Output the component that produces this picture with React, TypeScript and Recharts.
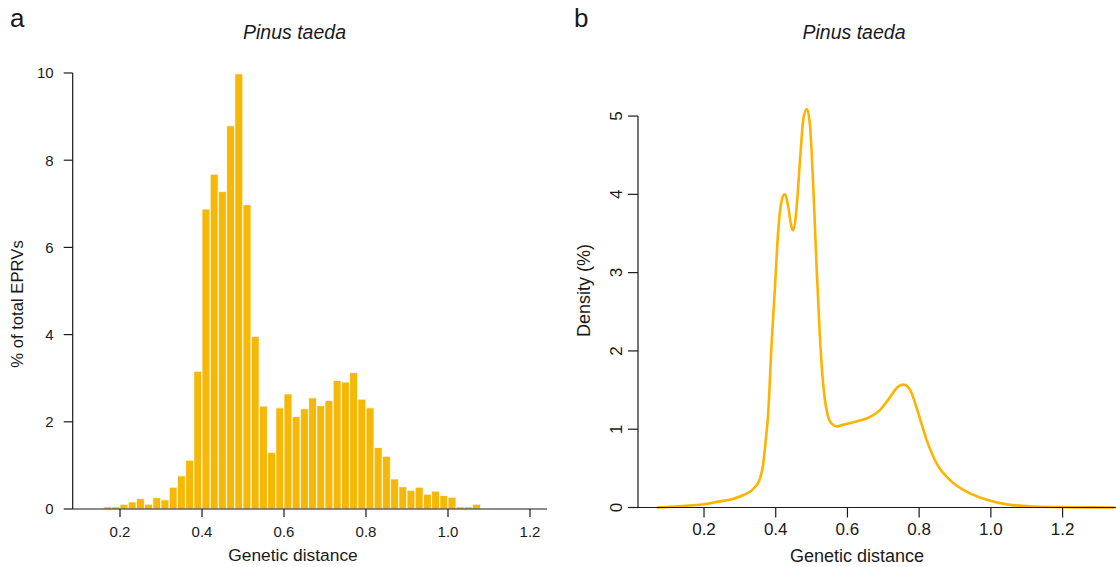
import React from 'react';
import { ComposedChart, Bar, LineChart, Line, XAxis, YAxis, ReferenceLine } from 'recharts';

// histogram: bin centres (width 0.02) and % of total EPRVs
const binCenters = [
  0.17, 0.19, 0.21, 0.23, 0.25, 0.27, 0.29, 0.31, 0.33, 0.35, 0.37, 0.39, 0.41, 0.43, 0.45, 0.47,
  0.49, 0.51, 0.53, 0.55, 0.57, 0.59, 0.61, 0.63, 0.65, 0.67, 0.69, 0.71, 0.73, 0.75, 0.77, 0.79,
  0.81, 0.83, 0.85, 0.87, 0.89, 0.91, 0.93, 0.95, 0.97, 0.99, 1.01, 1.03, 1.05, 1.07,
];
const eprvPercent = [
  0.05, 0.05, 0.11, 0.16, 0.24, 0.11, 0.26, 0.21, 0.5, 0.76, 1.12, 3.16, 6.88, 7.68, 7.28, 8.79,
  9.98, 6.98, 3.96, 2.36, 1.3, 2.32, 2.64, 2.12, 2.3, 2.55, 2.37, 2.49, 2.95, 2.91, 3.13, 2.52,
  2.32, 1.41, 1.21, 0.69, 0.51, 0.43, 0.5, 0.34, 0.41, 0.31, 0.27, 0.05, 0.05, 0.11,
];

// density curve
const densityX = [
  0.068, 0.12, 0.16, 0.2, 0.24, 0.28, 0.31, 0.34, 0.356, 0.365, 0.372, 0.379, 0.388, 0.398, 0.407,
  0.417, 0.425, 0.435, 0.443, 0.449, 0.455, 0.46, 0.469, 0.478, 0.487, 0.495, 0.504, 0.514, 0.523,
  0.53, 0.537, 0.545, 0.556, 0.57, 0.59, 0.625, 0.66, 0.69, 0.719, 0.743, 0.757, 0.775, 0.798, 0.821,
  0.849, 0.886, 0.933, 0.989, 1.045, 1.119, 1.212, 1.345,
];
const densityPct = [
  0, 0.012, 0.025, 0.042, 0.075, 0.11, 0.16, 0.25, 0.37, 0.55, 0.85, 1.2, 2.05, 2.82, 3.54,
  3.93, 4.0, 3.84, 3.6, 3.54, 3.68, 3.93, 4.52, 4.99, 5.09, 4.91, 4.18, 3.07, 2.2,
  1.7, 1.38, 1.18, 1.07, 1.035, 1.06, 1.1, 1.15, 1.24, 1.41, 1.55, 1.57, 1.5, 1.2, 0.86,
  0.56, 0.35, 0.2, 0.1, 0.04, 0.013, 0.004, 0,
];

const distanceTicks = [0.2, 0.4, 0.6, 0.8, 1.0, 1.2];
const histTicks = [0, 2, 4, 6, 8, 10];
const densityTicks = [0, 1, 2, 3, 4, 5];

const FONT = '"Liberation Sans", Arial, sans-serif';
const INK = '#1a1a1a';
const BAR = '#F6B806';
const CURVE = '#FFB300';

const histData = binCenters.map((x, i) => ({ x, pct: eprvPercent[i] }));
const densityData = densityX.map((x, i) => ({ x, pct: densityPct[i] }));

const RotatedTick = (props: any) => {
  const { x, y, payload } = props;
  return (
    <text x={x} y={y} transform={`rotate(-90 ${x} ${y})`} textAnchor="middle"
      fill={INK} fontSize={17} fontFamily={FONT}>
      {payload.value}
    </text>
  );
};

export default function App() {
  const axisLine = { stroke: INK, strokeWidth: 1.2 };
  return (
    <div style={{ position: 'absolute', left: 0, top: 0, width: 1116, height: 567, background: '#fff' }}>
      <div style={{ position: 'absolute', left: 0, top: 0 }}>
        <ComposedChart width={560} height={567} data={histData} barCategoryGap={0} barGap={0}
          margin={{ top: 73, right: 13, bottom: 0, left: 0 }}>
          <XAxis dataKey="x" type="number" domain={[0.0846, 1.2415]} ticks={distanceTicks}
            allowDataOverflow height={58} tickSize={8} tickMargin={9}
            tickFormatter={(v: number) => v.toFixed(1)}
            axisLine={axisLine} tickLine={axisLine}
            tick={{ fill: INK, fontSize: 15, fontFamily: FONT }} />
          <YAxis type="number" domain={[0, 10]} ticks={histTicks} width={72.7}
            tickSize={9} tickMargin={10} axisLine={axisLine} tickLine={axisLine}
            tick={{ fill: INK, fontSize: 15, fontFamily: FONT }} />
          <Bar dataKey="pct" fill={BAR} stroke="#fff" strokeWidth={0.8} isAnimationActive={false} />
        </ComposedChart>
      </div>
      <div style={{ position: 'absolute', left: 560, top: 0 }}>
        <LineChart width={556} height={567} data={densityData}
          margin={{ top: 100.4, right: 0, bottom: 0, left: 0 }}>
          <XAxis dataKey="x" type="number" domain={[0.0159, 1.349]} ticks={distanceTicks}
            allowDataOverflow height={59.5} tickSize={10} tickMargin={5.5}
            tickFormatter={(v: number) => v.toFixed(1)}
            axisLine={axisLine} tickLine={axisLine}
            tick={{ fill: INK, fontSize: 17, fontFamily: FONT }} />
          <YAxis type="number" domain={[0, 5.2]} ticks={densityTicks} width={78}
            tickSize={10} tickMargin={6} axisLine={false} tickLine={axisLine}
            tick={<RotatedTick />} />
          <ReferenceLine segment={[{ x: 0.0159, y: 0 }, { x: 0.0159, y: 5 }]}
            stroke={INK} strokeWidth={1.2} />
          <Line dataKey="pct" type="monotone" stroke={CURVE} strokeWidth={2.6} dot={false}
            isAnimationActive={false} />
        </LineChart>
      </div>
      <svg width={1116} height={567} style={{ position: 'absolute', left: 0, top: 0, pointerEvents: 'none' }}
        fontFamily={FONT} fill={INK}>
        <text x={10} y={26.5} fontSize={26}>a</text>
        <text x={574} y={26.5} fontSize={26}>b</text>
        <text x={294.5} y={39} fontSize={19.5} fontStyle="italic" textAnchor="middle">Pinus taeda</text>
        <text x={854} y={39} fontSize={19.5} fontStyle="italic" textAnchor="middle">Pinus taeda</text>
        <text x={293} y={560.5} fontSize={17.4} textAnchor="middle">Genetic distance</text>
        <text x={857} y={562} fontSize={18} textAnchor="middle">Genetic distance</text>
        <text x={22.5} y={304} fontSize={16.7} textAnchor="middle" transform="rotate(-90 22.5 304)">% of total EPRVs</text>
        <text x={590} y={290.5} fontSize={18} textAnchor="middle" transform="rotate(-90 590 290.5)">Density (%)</text>
      </svg>
    </div>
  );
}
